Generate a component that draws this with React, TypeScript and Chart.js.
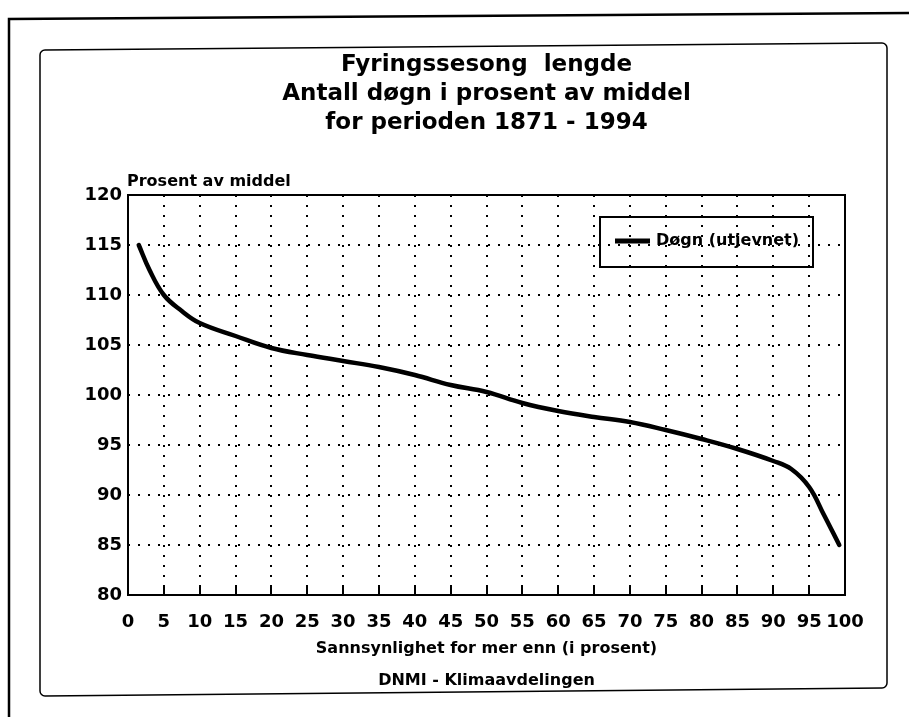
import React, { useEffect, useRef } from 'react';
import { Chart, registerables } from 'chart.js';

Chart.register(...registerables);

// ---- Texts ----
const TITLE_LINES = ['Fyringssesong  lengde', 'Antall døgn i prosent av middel', 'for perioden 1871 - 1994'];
const Y_CAPTION = 'Prosent av middel';
const X_TITLE = 'Sannsynlighet for mer enn (i prosent)';
const FOOTER = 'DNMI - Klimaavdelingen';
const SERIES_LABEL = 'Døgn (utjevnet)';

// ---- Data ----
const probability = [1.5, 3, 5, 7.5, 10, 15, 20, 25, 30, 35, 40, 45, 50, 55, 60, 65, 70, 75, 80, 85, 90, 92.5, 95, 97, 99.2];
const percentOfMean = [115.0, 112.5, 110.0, 108.4, 107.2, 105.9, 104.7, 104.0, 103.4, 102.8, 102.0, 101.0, 100.3, 99.2, 98.4, 97.8, 97.3, 96.5, 95.6, 94.6, 93.4, 92.6, 90.8, 88.1, 85.0];

const X_MIN = 0;
const X_MAX = 100;
const X_STEP = 5;
const Y_MIN = 80;
const Y_MAX = 120;
const Y_STEP = 5;

const FONT = '"DejaVu Sans", "Liberation Sans", sans-serif';

const W = 909;
const H = 717;

function roundedQuad(ctx: CanvasRenderingContext2D, pts: [number, number][], r: number) {
  ctx.beginPath();
  const n = pts.length;
  const mid = (a: [number, number], b: [number, number]) => [(a[0] + b[0]) / 2, (a[1] + b[1]) / 2];
  const start = mid(pts[n - 1], pts[0]);
  ctx.moveTo(start[0], start[1]);
  for (let i = 0; i < n; i++) {
    const p = pts[i];
    const q = pts[(i + 1) % n];
    ctx.arcTo(p[0], p[1], q[0], q[1], r);
  }
  ctx.closePath();
}

const decorPlugin = {
  id: 'decor',
  beforeDraw(chart: any) {
    const ctx: CanvasRenderingContext2D = chart.ctx;
    const ca = chart.chartArea;
    ctx.save();
    ctx.fillStyle = '#fff';
    ctx.fillRect(0, 0, chart.width, chart.height);

    // outer page frame
    ctx.strokeStyle = '#000';
    ctx.lineWidth = 2.5;
    ctx.beginPath();
    ctx.moveTo(9, H);
    ctx.lineTo(9, 19);
    ctx.lineTo(W, 13);
    ctx.stroke();

    // inner rounded box
    ctx.lineWidth = 1.5;
    roundedQuad(ctx, [[40, 50], [887, 43], [887, 688], [40, 696]], 5);
    ctx.stroke();

    const cx = (ca.left + ca.right) / 2;
    ctx.fillStyle = '#000';
    ctx.textBaseline = 'alphabetic';

    // title
    ctx.font = `bold 23px ${FONT}`;
    ctx.textAlign = 'center';
    const baselines = [71, 100, 129];
    TITLE_LINES.forEach((t, i) => ctx.fillText(t, cx, baselines[i]));

    // y caption
    ctx.font = `bold 16px ${FONT}`;
    ctx.textAlign = 'left';
    ctx.fillText(Y_CAPTION, ca.left - 1, 186);

    // x title & footer
    ctx.textAlign = 'center';
    ctx.fillText(X_TITLE, cx, 653);
    ctx.fillText(FOOTER, cx, 685);
    ctx.restore();
  },
  beforeDatasetsDraw(chart: any) {
    const ctx: CanvasRenderingContext2D = chart.ctx;
    const ca = chart.chartArea;
    const xs = chart.scales.x;
    ctx.save();
    ctx.strokeStyle = '#000';
    ctx.lineWidth = 2;
    ctx.strokeRect(ca.left, ca.top, ca.right - ca.left, ca.bottom - ca.top);
    // inner tick marks on bottom axis
    for (let v = X_MIN + X_STEP; v < X_MAX; v += X_STEP) {
      const px = Math.round(xs.getPixelForValue(v));
      ctx.beginPath();
      ctx.moveTo(px, ca.bottom);
      ctx.lineTo(px, ca.bottom - 8);
      ctx.stroke();
    }
    ctx.restore();
  },
  afterDraw(chart: any) {
    const ctx: CanvasRenderingContext2D = chart.ctx;
    const ca = chart.chartArea;
    const ds = chart.data.datasets[0];
    const right = ca.right - 32;
    const left = right - 213;
    const top = ca.top + 22;
    const bottom = top + 50;
    const midY = (top + bottom) / 2 - 1;
    ctx.save();
    ctx.strokeStyle = '#000';
    ctx.lineWidth = 2;
    ctx.strokeRect(left, top, right - left, bottom - top);
    ctx.lineWidth = 5;
    ctx.beginPath();
    ctx.moveTo(left + 15, midY);
    ctx.lineTo(left + 50, midY);
    ctx.stroke();
    ctx.fillStyle = '#000';
    ctx.font = `bold 16px ${FONT}`;
    ctx.textAlign = 'left';
    ctx.textBaseline = 'middle';
    ctx.fillText(ds.label, left + 56, midY);
    ctx.restore();
  },
};

export default function App() {
  const ref = useRef<HTMLCanvasElement | null>(null);

  useEffect(() => {
    document.body.style.margin = '0';
    const canvas = ref.current;
    if (!canvas) return;
    const points = probability.map((x, i) => ({ x, y: percentOfMean[i] }));
    const chart = new Chart(canvas, {
      type: 'line',
      data: {
        datasets: [
          {
            label: SERIES_LABEL,
            data: points,
            borderColor: '#000',
            backgroundColor: '#000',
            borderWidth: 4.5,
            pointRadius: 0,
            tension: 0.4,
            borderCapStyle: 'round',
            borderJoinStyle: 'round',
            fill: false,
          },
        ],
      },
      options: {
        animation: false,
        responsive: false,
        devicePixelRatio: 1,
        layout: { padding: { top: 195, right: 64, bottom: 0, left: 0 } },
        plugins: {
          legend: { display: false },
          title: { display: false },
          tooltip: { enabled: false },
        },
        scales: {
          x: {
            type: 'linear',
            min: X_MIN,
            max: X_MAX,
            afterFit: (s: any) => {
              s.height = 122;
            },
            ticks: {
              stepSize: X_STEP,
              autoSkip: false,
              maxRotation: 0,
              minRotation: 0,
              padding: 18,
              color: '#000',
              font: { family: FONT, size: 18, weight: 'bold', lineHeight: 1 },
            },
            grid: { color: '#000', lineWidth: 2, drawTicks: false },
            border: { display: false, dash: [2, 8] },
          },
          y: {
            type: 'linear',
            min: Y_MIN,
            max: Y_MAX,
            afterFit: (s: any) => {
              s.width = 128;
            },
            ticks: {
              stepSize: Y_STEP,
              padding: 6,
              color: '#000',
              font: { family: FONT, size: 18, weight: 'bold', lineHeight: 1 },
            },
            grid: { color: '#000', lineWidth: 2, drawTicks: false },
            border: { display: false, dash: [2, 8] },
          },
        },
      },
      plugins: [decorPlugin],
    });
    return () => chart.destroy();
  }, []);

  return (
    <div style={{ position: 'fixed', left: 0, top: 0, width: W, height: H, background: '#fff' }}>
      <canvas ref={ref} width={W} height={H} style={{ display: 'block' }} />
    </div>
  );
}
